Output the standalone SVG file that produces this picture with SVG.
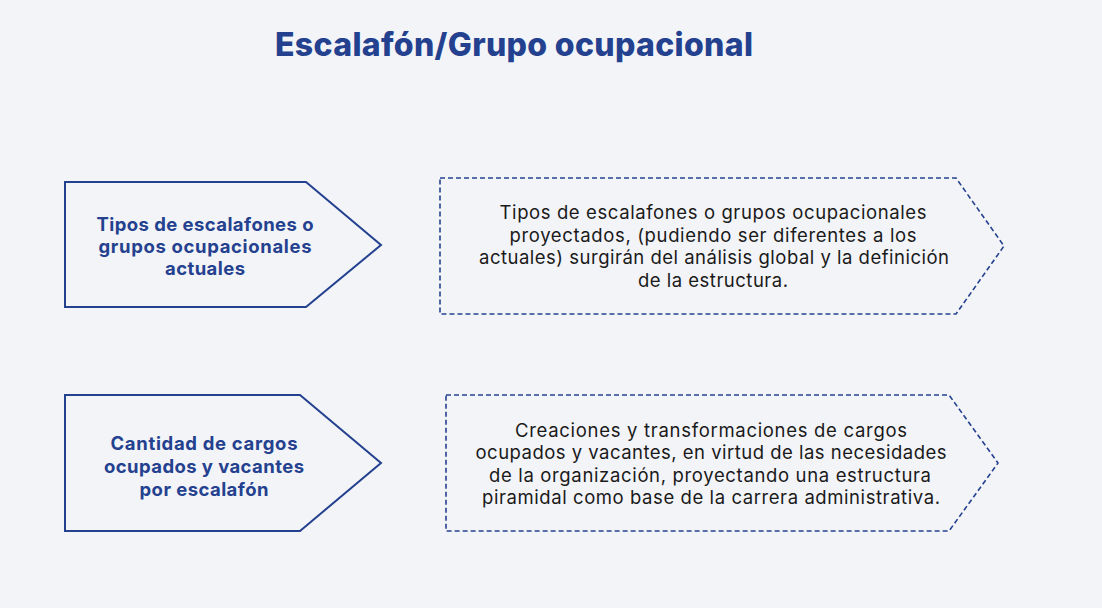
<svg xmlns="http://www.w3.org/2000/svg" width="1102" height="608" viewBox="0 0 1102 608">
<style>
.solid{fill:#f3f4f8;stroke:#24418f;stroke-width:2;stroke-linejoin:miter}
.dash{fill:#f3f4f8;stroke:#24418f;stroke-width:1.6;stroke-dasharray:5 3}
.lbl{font-family:Inter,"Liberation Sans",sans-serif;font-weight:700;font-size:18.5px;fill:#24418f;text-anchor:middle}
.desc{font-family:Inter,"Liberation Sans",sans-serif;font-weight:400;font-size:18.5px;fill:#1a1a1a;text-anchor:middle}
.title{font-family:Inter,"Liberation Sans",sans-serif;font-weight:800;font-size:32px;fill:#24418f;text-anchor:middle}
</style>
<rect width="1102" height="608" fill="#f3f4f8"/>
<text class="title" x="514" y="56" textLength="478" lengthAdjust="spacing">Escalafón/Grupo ocupacional</text>
<g id="node-actuales">
<polygon class="solid" points="65,182 306,182 381,245 306,307 65,307"/>
<text class="lbl" x="205" y="231" textLength="217" lengthAdjust="spacing">Tipos de escalafones o</text>
<text class="lbl" x="205" y="253" textLength="213" lengthAdjust="spacing">grupos ocupacionales</text>
<text class="lbl" x="205" y="275" textLength="80" lengthAdjust="spacing">actuales</text>
</g>
<g id="node-proyectados">
<polygon class="dash" points="440,178 956,178 1004,246 956,314 440,314"/>
<text class="desc" x="713" y="219" textLength="427" lengthAdjust="spacing">Tipos de escalafones o grupos ocupacionales</text>
<text class="desc" x="713" y="242" textLength="407" lengthAdjust="spacing">proyectados, (pudiendo ser diferentes a los</text>
<text class="desc" x="714" y="264" textLength="470" lengthAdjust="spacing">actuales) surgirán del análisis global y la definición</text>
<text class="desc" x="713" y="287" textLength="150" lengthAdjust="spacing">de la estructura.</text>
</g>
<g id="node-cantidad">
<polygon class="solid" points="65,395 300,395 381,463 300,531 65,531"/>
<text class="lbl" x="204" y="450" textLength="187" lengthAdjust="spacing">Cantidad de cargos</text>
<text class="lbl" x="204" y="473" textLength="200" lengthAdjust="spacing">ocupados y vacantes</text>
<text class="lbl" x="204" y="496" textLength="129" lengthAdjust="spacing">por escalafón</text>
</g>
<g id="node-creaciones">
<polygon class="dash" points="446,395 949,395 998,463 949,531 446,531"/>
<text class="desc" x="711" y="437" textLength="392" lengthAdjust="spacing">Creaciones y transformaciones de cargos</text>
<text class="desc" x="711" y="459" textLength="471" lengthAdjust="spacing">ocupados y vacantes, en virtud de las necesidades</text>
<text class="desc" x="710" y="482" textLength="442" lengthAdjust="spacing">de la organización, proyectando una estructura</text>
<text class="desc" x="711" y="504" textLength="458" lengthAdjust="spacing">piramidal como base de la carrera administrativa.</text>
</g>
<g id="connectors"/>
</svg>
